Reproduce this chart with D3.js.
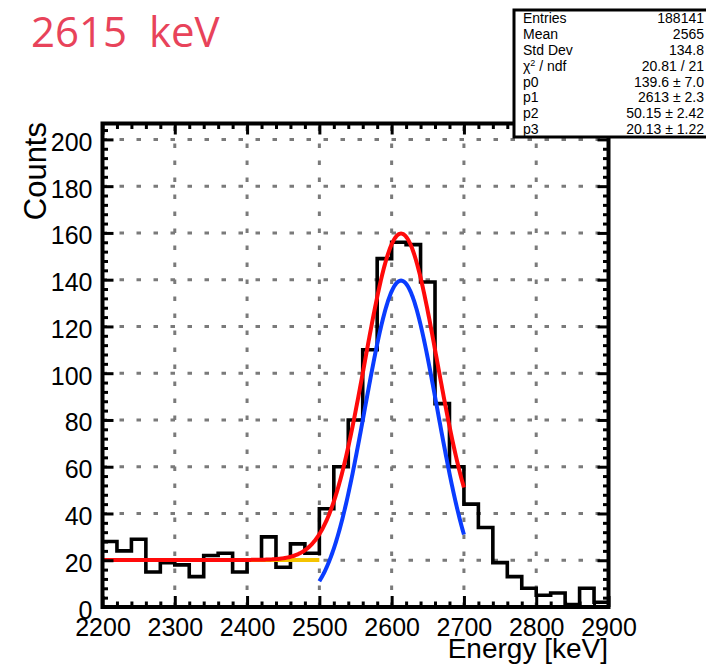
<!DOCTYPE html>
<html>
<head>
<meta charset="utf-8">
<script src="https://cdn.jsdelivr.net/npm/d3@7"></script>
<style>
  html, body { margin: 0; padding: 0; background: #fff; }
  svg { display: block; }
  .tick text { font-family: "Liberation Sans", Arial, sans-serif; }
</style>
</head>
<body>
<div id="chart"></div>
<script>
// Energy spectrum around the 2615 keV line: 20 keV bins, lower edges
const binLow = [2200, 2220, 2240, 2260, 2280, 2300, 2320, 2340, 2360, 2380,
                2400, 2420, 2440, 2460, 2480, 2500, 2520, 2540, 2560, 2580,
                2600, 2620, 2640, 2660, 2680, 2700, 2720, 2740, 2760, 2780,
                2800, 2820, 2840, 2860, 2880];
const binWidth = 20;
const counts = [28, 24, 29, 15, 19, 18, 13, 22, 23, 15,
                20, 30, 17, 27, 23, 42, 60, 80, 110, 149,
                156, 155, 139, 87, 60, 44, 34, 19, 13, 8,
                5, 6, 1, 8, 2];

// Fit: gaus(p0, p1, p2) + p3
const fitParams = [139.6, 2613, 50.15, 20.13];
const fitRange = [2200, 2700];
const peakRange = [2500, 2700];
const baseRange = [2200, 2500];

// Axes
const xMajor = [2200, 2300, 2400, 2500, 2600, 2700, 2800, 2900];
const yMajor = [0, 20, 40, 60, 80, 100, 120, 140, 160, 180, 200];
const xDomain = [2200, 2900];
const yDomain = [0, 206.8];

// Statistics box
const statLabels = ["Entries", "Mean", "Std Dev", "χ2 / ndf", "p0", "p1", "p2", "p3"];
const statValues = ["188141", "2565", "134.8", "20.81 / 21",
                    "139.6 ± 7.0", "2613 ± 2.3", "50.15 ± 2.42", "20.13 ± 1.22"];

const W = 706, H = 665;
const svg = d3.select("#chart").append("svg")
  .attr("width", W).attr("height", H);

const x = d3.scaleLinear().domain(xDomain).range([102.5, 608.5]);
const y = d3.scaleLinear().domain(yDomain).range([607, 123.5]);

// Grid
const grid = svg.append("g")
  .attr("stroke", "#7a7a7a").attr("stroke-width", 3)
  .attr("stroke-dasharray", "4.5,12.5");
grid.selectAll("line.v").data(xMajor.slice(1, -1)).join("line")
  .attr("x1", d => x(d)).attr("x2", d => x(d))
  .attr("y1", y(0)).attr("y2", y(yDomain[1]));
grid.selectAll("line.h").data(yMajor.slice(1)).join("line")
  .attr("x1", x(xDomain[0])).attr("x2", x(xDomain[1]))
  .attr("y1", d => y(d)).attr("y2", d => y(d));

// Histogram outline
const stepPts = [];
binLow.forEach((lo, i) => {
  stepPts.push([lo, counts[i]]);
  stepPts.push([lo + binWidth, counts[i]]);
});
svg.append("path")
  .datum(stepPts)
  .attr("fill", "none").attr("stroke", "#000").attr("stroke-width", 3.6)
  .attr("stroke-linejoin", "miter")
  .attr("d", d3.line().x(d => x(d[0])).y(d => y(d[1])));

// Fit curves
const gaus = e => fitParams[0] * Math.exp(-0.5 * Math.pow((e - fitParams[1]) / fitParams[2], 2));
const sample = (range, f) => d3.range(range[0], range[1] + 0.5, 1).map(e => [e, f(e)]);
const curve = d3.line().x(d => x(d[0])).y(d => y(d[1]));

svg.append("path").datum(sample(baseRange, () => fitParams[3]))
  .attr("fill", "none").attr("stroke", "#f5c400").attr("stroke-width", 4)
  .attr("d", curve);
svg.append("path").datum(sample(peakRange, gaus))
  .attr("fill", "none").attr("stroke", "#0a3cff").attr("stroke-width", 4)
  .attr("d", curve);
svg.append("path").datum(sample(fitRange, e => gaus(e) + fitParams[3]))
  .attr("fill", "none").attr("stroke", "#ff0a0a").attr("stroke-width", 4)
  .attr("d", curve);

// Axes with inward ticks on all four sides
const xMinor = d3.range(xDomain[0], xDomain[1] + 1, 20).filter(v => v % 100 !== 0);
const yMinor = d3.range(0, yDomain[1], 4).filter(v => v % 20 !== 0);

function styleAxis(g) {
  g.select(".domain").remove();
  g.selectAll(".tick line").attr("stroke", "#000").attr("stroke-width", 3);
  g.selectAll(".tick text").attr("fill", "#000")
    .style("font-family", "'Liberation Sans', Arial, sans-serif")
    .style("font-size", "25px");
}

svg.append("g").attr("transform", `translate(0,${y(0)})`)
  .call(d3.axisBottom(x).tickValues(xMajor).tickSize(-11).tickPadding(11).tickFormat(d3.format("d")))
  .call(styleAxis);
svg.append("g").attr("transform", `translate(0,${y(0)})`)
  .call(d3.axisBottom(x).tickValues(xMinor).tickSize(-5.5).tickFormat(""))
  .call(styleAxis);
svg.append("g").attr("transform", `translate(0,${y(yDomain[1])})`)
  .call(d3.axisTop(x).tickValues(xMajor).tickSize(-11).tickFormat(""))
  .call(styleAxis);
svg.append("g").attr("transform", `translate(0,${y(yDomain[1])})`)
  .call(d3.axisTop(x).tickValues(xMinor).tickSize(-5.5).tickFormat(""))
  .call(styleAxis);

const yAxisG = svg.append("g").attr("transform", `translate(${x(xDomain[0])},0)`)
  .call(d3.axisLeft(y).tickValues(yMajor).tickSize(-11).tickPadding(10))
  .call(styleAxis);
yAxisG.selectAll(".tick text").attr("dy", "0.44em");
svg.append("g").attr("transform", `translate(${x(xDomain[0])},0)`)
  .call(d3.axisLeft(y).tickValues(yMinor).tickSize(-5.5).tickFormat(""))
  .call(styleAxis);
svg.append("g").attr("transform", `translate(${x(xDomain[1])},0)`)
  .call(d3.axisRight(y).tickValues(yMajor).tickSize(-11).tickFormat(""))
  .call(styleAxis);
svg.append("g").attr("transform", `translate(${x(xDomain[1])},0)`)
  .call(d3.axisRight(y).tickValues(yMinor).tickSize(-5.5).tickFormat(""))
  .call(styleAxis);

// Frame
svg.append("rect")
  .attr("x", x(xDomain[0])).attr("y", y(yDomain[1]))
  .attr("width", x(xDomain[1]) - x(xDomain[0]))
  .attr("height", y(0) - y(yDomain[1]))
  .attr("fill", "none").attr("stroke", "#000").attr("stroke-width", 4);

// Axis titles
svg.append("text")
  .attr("transform", "translate(46,122) rotate(-90)")
  .attr("text-anchor", "end")
  .style("font-family", "'Liberation Sans', Arial, sans-serif")
  .style("font-size", "31px")
  .text("Counts");
svg.append("text")
  .attr("x", 608).attr("y", 658)
  .attr("text-anchor", "end")
  .style("font-family", "'Liberation Sans', Arial, sans-serif")
  .style("font-size", "28px")
  .text("Energy [keV]");

// Title
svg.append("text")
  .attr("x", 31).attr("y", 47)
  .attr("fill", "#e8435a")
  .style("font-family", "'Open Sans', sans-serif")
  .style("font-size", "42px")
  .attr("xml:space", "preserve")
  .style("white-space", "pre")
  .text("2615  keV");

// Statistics box
const box = svg.append("g");
box.append("rect")
  .attr("x", 514).attr("y", 10).attr("width", 200).attr("height", 127)
  .attr("fill", "#fff").attr("stroke", "#000").attr("stroke-width", 3);
const rowH = 15.9;
statLabels.forEach((lab, i) => {
  const ty = 10 + rowH * (i + 0.5) + 5;
  const t = box.append("text")
    .attr("x", 523).attr("y", ty)
    .style("font-family", "'Liberation Sans', Arial, sans-serif")
    .style("font-size", "14px");
  if (lab.startsWith("χ2")) {
    t.append("tspan").text("χ");
    t.append("tspan").attr("dy", -5).style("font-size", "9px").text("2");
    t.append("tspan").attr("dy", 5).text(" / ndf");
  } else {
    t.text(lab);
  }
  box.append("text")
    .attr("x", 704).attr("y", ty)
    .attr("text-anchor", "end")
    .style("font-family", "'Liberation Sans', Arial, sans-serif")
    .style("font-size", "14px")
    .text(statValues[i]);
});
</script>
</body>
</html>
